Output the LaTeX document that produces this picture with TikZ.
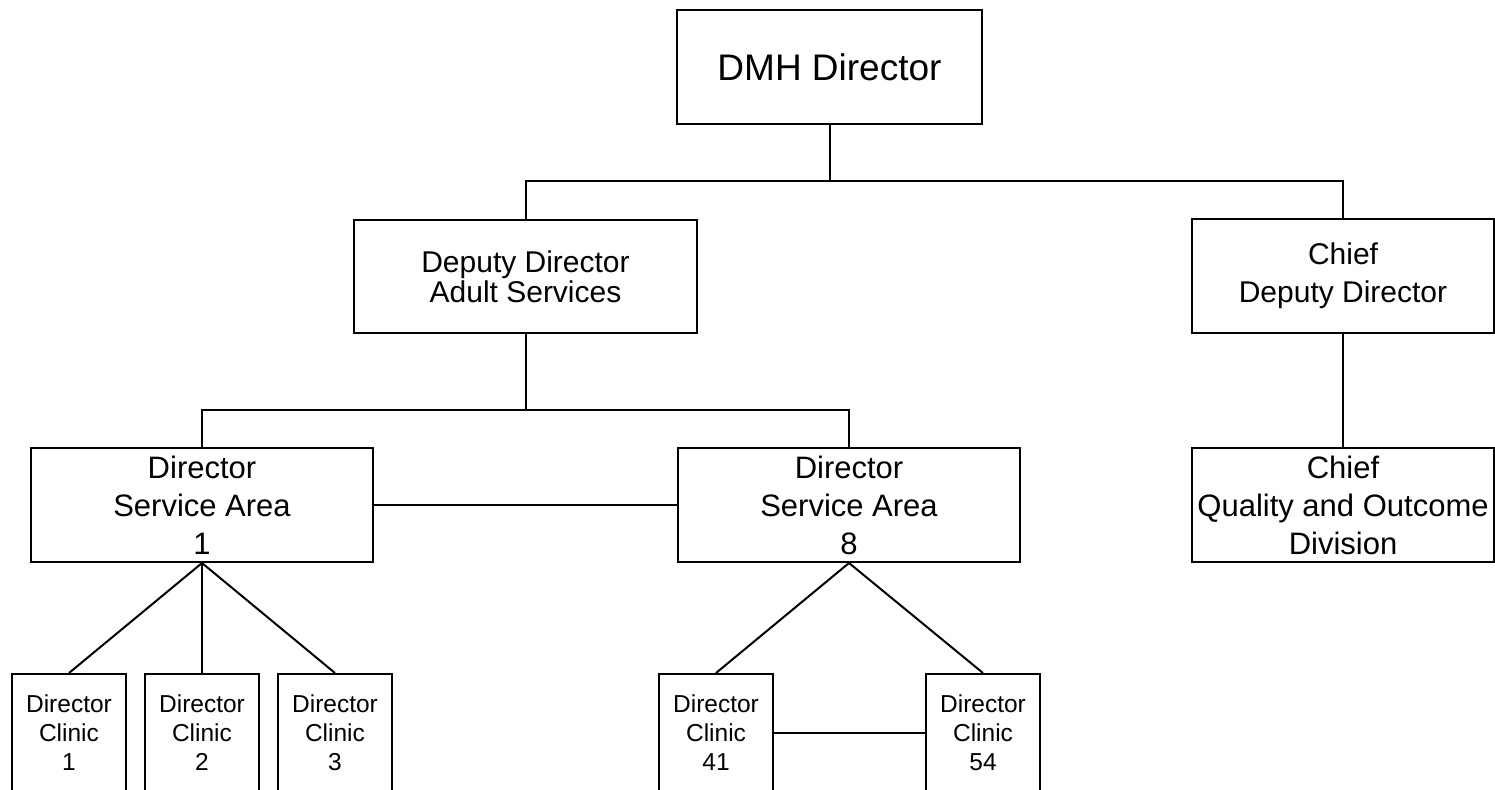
\documentclass[tikz,border=0pt]{standalone}
\usepackage{fontspec}
\setmainfont{Liberation Sans}
\begin{document}
\begin{tikzpicture}[x=1pt,y=-1pt,
  box/.style={draw,line width=2pt,inner sep=0pt,align=center,anchor=center},
  conn/.style={line width=2pt}]
\useasboundingbox (0,0) rectangle (1495,789);
\clip (0,0) rectangle (1495,789);
\node[box,minimum width=305pt,minimum height=114pt,font=\fontsize{37}{40}\selectfont] (dmh) at (829.5,67) {DMH Director};
\node[box,minimum width=343pt,minimum height=113pt,font=\fontsize{30}{30}\selectfont] (dep) at (525.5,276.5) {Deputy Director\\Adult Services};
\node[box,minimum width=302pt,minimum height=114pt,font=\fontsize{30}{38}\selectfont] (chief) at (1343,276) {Chief\\Deputy Director};
\node[box,minimum width=342pt,minimum height=114pt,font=\fontsize{31}{38}\selectfont] (sa1) at (202,505) {Director\\Service Area\\1};
\node[box,minimum width=342pt,minimum height=114pt,font=\fontsize{31}{38}\selectfont] (sa8) at (849,505) {Director\\Service Area\\8};
\node[box,minimum width=302pt,minimum height=114pt,font=\fontsize{31}{38}\selectfont] (qod) at (1343,505) {Chief\\Quality and Outcome\\Division};
\tikzset{clinic/.style={box,minimum width=114pt,minimum height=118pt,font=\fontsize{24.5}{29}\selectfont}}
\node[clinic] (c1) at (69,733) {Director\\Clinic\\1};
\node[clinic] (c2) at (202,733) {Director\\Clinic\\2};
\node[clinic] (c3) at (335,733) {Director\\Clinic\\3};
\node[clinic] (c41) at (716,733) {Director\\Clinic\\41};
\node[clinic] (c54) at (983,733) {Director\\Clinic\\54};
\coordinate (bus1) at (0,181);
\coordinate (bus2) at (0,410);
\draw[conn] (dmh.south) -- (dmh.south |- bus1);
\draw[conn] (dep.north) -- (dep.north |- bus1) -- (chief.north |- bus1) -- (chief.north);
\draw[conn] (dep.south) -- (dep.south |- bus2);
\draw[conn] (sa1.north) -- (sa1.north |- bus2) -- (sa8.north |- bus2) -- (sa8.north);
\draw[conn] (chief.south) -- (qod.north);
\draw[conn] (sa1.east) -- (sa8.west);
\draw[conn] (c1.north) -- (sa1.south) -- (c3.north);
\draw[conn] (sa1.south) -- (c2.north);
\draw[conn] (c41.north) -- (sa8.south) -- (c54.north);
\draw[conn] (c41.east) -- (c54.west);
\end{tikzpicture}
\end{document}
